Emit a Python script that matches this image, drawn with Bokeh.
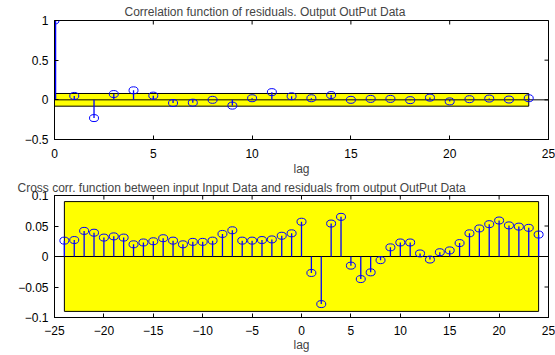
from bokeh.plotting import figure
from bokeh.layouts import column
from bokeh.models import Range1d, FixedTicker, ColumnDataSource
from bokeh.embed import file_html
from bokeh.resources import INLINE

# Auto-correlation of residuals (lags 0..24)
auto_lags = list(range(0, 25))
auto_corr = [1.0, 0.049, -0.23, 0.073, 0.12, 0.053, -0.04, -0.036, 0.0, -0.073,
             0.02, 0.097, 0.045, 0.02, 0.06, 0.0, 0.012, 0.012, -0.004, 0.028,
             -0.02, 0.008, 0.016, 0.004, 0.02]
auto_conf = 0.08

# Cross-correlation between input and residuals (lags -24..24)
cross_lags = list(range(-24, 25))
cross_corr = [0.026, 0.027, 0.042, 0.039, 0.031, 0.033, 0.031, 0.020, 0.023, 0.025,
              0.030, 0.026, 0.020, 0.024, 0.024, 0.026, 0.037, 0.043, 0.026, 0.026,
              0.027, 0.028, 0.034, 0.038, 0.057, -0.027, -0.078, 0.054, 0.065, -0.015,
              -0.037, -0.026, -0.006, 0.015, 0.023, 0.023, 0.005, -0.005, 0.007, 0.010,
              0.022, 0.038, 0.046, 0.053, 0.059, 0.051, 0.049, 0.047, 0.036]
cross_conf = 0.09

top_xticks = [0, 5, 10, 15, 20, 25]
top_yticks = [-0.5, 0, 0.5, 1]
bot_xticks = [-25, -20, -15, -10, -5, 0, 5, 10, 15, 20, 25]
bot_yticks = [-0.1, -0.05, 0, 0.05, 0.1]

FONT = "Liberation Sans"
BLUE = "#0000ff"


def style_axis(ax, standoff, label_standoff=0):
    ax.major_tick_in = 4
    ax.major_tick_out = 0
    ax.minor_tick_in = 0
    ax.minor_tick_out = 0
    ax.axis_line_color = "black"
    ax.major_tick_line_color = "black"
    ax.major_label_text_font = FONT
    ax.major_label_text_font_size = "12px"
    ax.major_label_text_color = "black"
    ax.major_label_standoff = standoff
    ax.axis_label_text_font = FONT
    ax.axis_label_text_font_size = "12px"
    ax.axis_label_text_font_style = "normal"
    ax.axis_label_standoff = label_standoff


def make_panel(title, xr, yr, xticks, yticks, height, top_border, bottom_border,
               title_offset, title_standoff, tick_standoff, label_standoff):
    p = figure(width=555, height=height, x_range=Range1d(*xr), y_range=Range1d(*yr),
               output_backend="svg", toolbar_location=None, tools="",
               min_border_left=54, min_border_right=7, min_border_top=top_border,
               min_border_bottom=bottom_border)
    p.title.text = title
    p.title.text_font = FONT
    p.title.text_font_size = "12px"
    p.title.text_font_style = "normal"
    p.title.align = "left"
    p.title.offset = title_offset
    p.title.standoff = title_standoff
    p.xgrid.visible = False
    p.ygrid.visible = False
    p.outline_line_color = "black"
    p.outline_line_width = 1
    p.xaxis.ticker = FixedTicker(ticks=xticks)
    p.yaxis.ticker = FixedTicker(ticks=yticks)
    p.xaxis.axis_label = "lag"
    style_axis(p.xaxis[0], tick_standoff, label_standoff)
    style_axis(p.yaxis[0], 6)
    return p


def mirror_ticks(p, xticks, yticks):
    # inward tick marks on the top and right edges of the box
    p.scatter(x=xticks, y=[p.y_range.end] * len(xticks), marker="dash", size=8,
              angle=1.5708, line_color="black", line_width=1)
    p.scatter(x=[p.x_range.end] * len(yticks), y=yticks, marker="dash", size=8,
              line_color="black", line_width=1)


def draw_stems(p, lags, vals, conf, stem_width):
    # confidence band
    p.quad(left=lags[0], right=lags[-1], bottom=-conf, top=conf,
           fill_color="#ffff00", line_color="black", line_width=1)
    # baseline
    xr = p.x_range
    p.segment(x0=[xr.start], x1=[xr.end], y0=[0], y1=[0], line_color="black", line_width=1)
    src = ColumnDataSource(dict(x=lags, y=vals, z=[0] * len(lags)))
    p.segment(x0="x", x1="x", y0="z", y1="y", source=src,
              line_color=BLUE, line_width=stem_width)
    p.ellipse(x="x", y="y", width=9, height=7, width_units="screen",
              height_units="screen", source=src, fill_color=None,
              line_color=BLUE, line_width=1)


top = make_panel("Correlation function of residuals. Output OutPut Data",
                 (0, 25), (-0.5, 1), top_xticks, top_yticks, 178, 19, 36, 70, 4, 9, 1)
draw_stems(top, auto_lags, auto_corr, auto_conf, 1.3)
top.segment(x0=[auto_lags[0]], x1=[auto_lags[0]], y0=[0], y1=[auto_corr[0]],
            line_color=BLUE, line_width=3.5)
mirror_ticks(top, top_xticks, top_yticks)

bottom = make_panel("Cross corr. function between input Input Data and residuals from output OutPut Data",
                    (-25, 25), (-0.1, 0.1), bot_xticks, bot_yticks, 177, 16, 38, -37, 1, 8, 0)
draw_stems(bottom, cross_lags, cross_corr, cross_conf, 1.3)
mirror_ticks(bottom, bot_xticks, bot_yticks)

layout = column(top, bottom, spacing=0)
open("out.html", "w").write(file_html(layout, INLINE))
